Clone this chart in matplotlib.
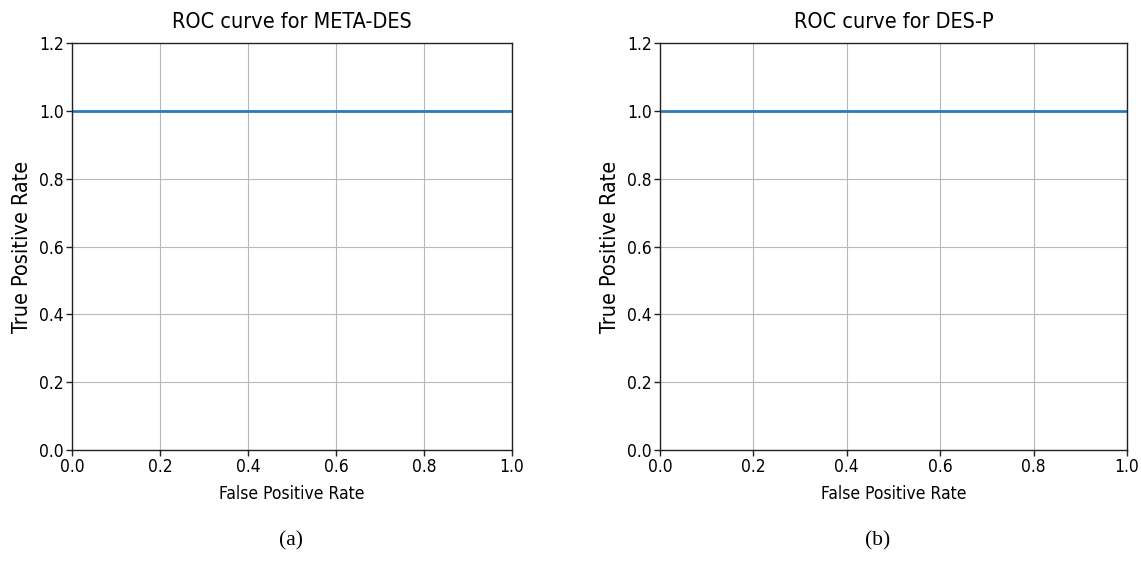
import matplotlib
matplotlib.use("Agg")
import matplotlib.pyplot as plt

# Data
titles = ["ROC curve for META-DES", "ROC curve for DES-P"]
captions = ["(a)", "(b)"]
fpr_meta = [0.0, 1.0]
tpr_meta = [1.0, 1.0]
fpr_desp = [0.0, 1.0]
tpr_desp = [1.0, 1.0]
xticks = [0.0, 0.2, 0.4, 0.6, 0.8, 1.0]
yticks = [0.0, 0.2, 0.4, 0.6, 0.8, 1.0, 1.2]

plt.rcParams['font.family'] = ['DejaVu Sans']
plt.rcParams['font.stretch'] = 'condensed'

fig = plt.figure(figsize=(11.41, 5.8), dpi=100)
W, H = 1141, 580
boxes = [(72, 512), (660, 1127)]
top, bottom = 43, 450
series = [(fpr_meta, tpr_meta), (fpr_desp, tpr_desp)]
cap_x = [291, 878]

for i, ((x0, x1), (fx, ty)) in enumerate(zip(boxes, series)):
    ax = fig.add_axes([x0 / W, 1 - bottom / H, (x1 - x0) / W, (bottom - top) / H])
    ax.plot(fx, ty, color='#2b7bba', lw=2.0, zorder=2)
    ax.set_xlim(0, 1)
    ax.set_ylim(0, 1.2)
    ax.set_xticks(xticks)
    ax.set_yticks(yticks)
    ax.set_xticklabels([f"{v:.1f}" for v in xticks], fontsize=12.5)
    ax.set_yticklabels([f"{v:.1f}" for v in yticks], fontsize=12.5)
    ax.grid(True, color='#b8b8b8', lw=0.8)
    ax.set_axisbelow(True)
    ax.set_title(titles[i], fontsize=15.5, pad=11)
    ax.set_xlabel("False Positive Rate", fontsize=12.5, labelpad=6)
    ax.set_ylabel("True Positive Rate", fontsize=15.5, labelpad=5)
    for s in ax.spines.values():
        s.set_color('#222222')
        s.set_linewidth(1.0)
    ax.tick_params(length=4, width=1.0, color='#222222', pad=2)
    fig.text(cap_x[i] / W, 1 - 541 / H, captions[i], ha='center', va='center',
             fontsize=15.5, family='Liberation Serif', stretch='normal')

fig.savefig("out.png", dpi=100)
